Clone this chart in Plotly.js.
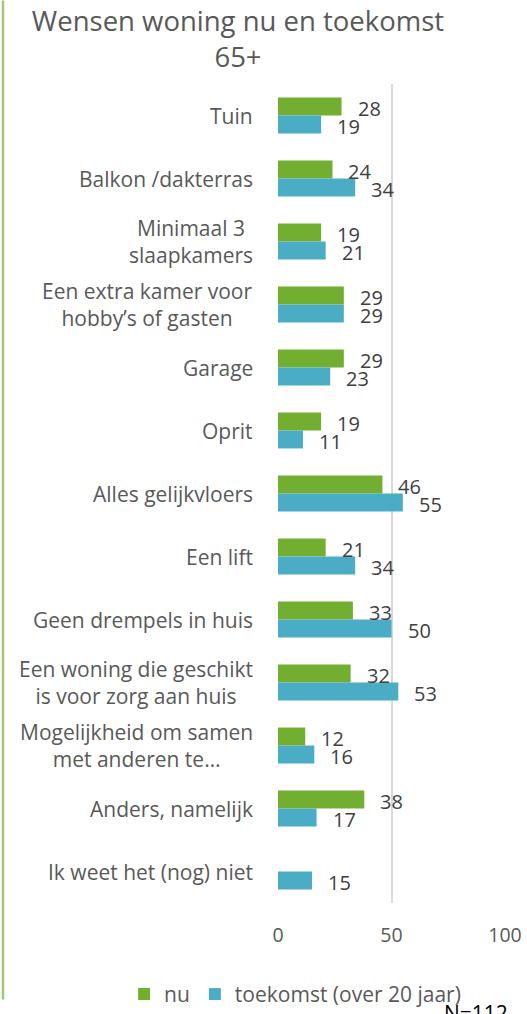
<!DOCTYPE html>
<html>
<head>
<meta charset="utf-8">
<script src="https://cdn.plot.ly/plotly-3.0.1.min.js"></script>
<style>html,body{margin:0;padding:0;background:#fff;}#chart{width:527px;height:1014px;}</style>
</head>
<body>
<div id="chart"></div>
<script>
var categories = [
  "Tuin",
  "Balkon /dakterras",
  "Minimaal 3<br>slaapkamers",
  "Een extra kamer voor<br>hobby’s of gasten",
  "Garage",
  "Oprit",
  "Alles gelijkvloers",
  "Een lift",
  "Geen drempels in huis",
  "Een woning die geschikt<br>is voor zorg aan huis",
  "Mogelijkheid om samen<br>met anderen te…",
  "Anders, namelijk",
  "Ik weet het (nog) niet"
];
var nu = [28, 24, 19, 29, 29, 19, 46, 21, 33, 32, 12, 38, null];
var toekomst = [19, 34, 21, 29, 23, 11, 55, 34, 50, 53, 16, 17, 15];
var xTicks = [0, 50, 100];
var seriesNames = ["nu", "toekomst (over 20 jaar)"];

var FONT = "'Open Sans', Lato, sans-serif";
var GRAY = "#595959";
var GREEN = "#72AE2F";
var TEAL = "#4BACC6";

var traces = [
  {type: "bar", orientation: "h", name: seriesNames[0], y: categories, x: nu,
   marker: {color: GREEN}, hoverinfo: "none"},
  {type: "bar", orientation: "h", name: seriesNames[1], y: categories, x: toekomst,
   marker: {color: TEAL}, hoverinfo: "none"}
];

var annotations = [];
categories.forEach(function (c, i) {
  annotations.push({xref: "paper", yref: "y", x: 0, y: c, xanchor: "right", yanchor: "middle",
    xshift: -23, align: "center", text: c, showarrow: false,
    font: {family: FONT, size: 21, color: GRAY}});
  if (nu[i] !== null) {
    annotations.push({xref: "x", yref: "y", x: nu[i], y: c, xanchor: "left", yanchor: "middle",
      xshift: 14, yshift: 7, text: String(nu[i]), showarrow: false,
      font: {family: FONT, size: 20, color: "#404040"}});
  }
  if (toekomst[i] !== null) {
    annotations.push({xref: "x", yref: "y", x: toekomst[i], y: c, xanchor: "left", yanchor: "middle",
      xshift: 14, yshift: -11, text: String(toekomst[i]), showarrow: false,
      font: {family: FONT, size: 20, color: "#404040"}});
  }
});
annotations.push({xref: "paper", yref: "paper", x: 0.723, y: -0.1345, xanchor: "left", yanchor: "middle",
  text: "N=112", showarrow: false, font: {family: FONT, size: 21, color: "#000"}});

var layout = {
  width: 527, height: 1014,
  margin: {l: 278, r: 22, t: 83.5, b: 110.5, autoexpand: false},
  paper_bgcolor: "#fff", plot_bgcolor: "#fff",
  title: {text: "Wensen woning nu en toekomst<br>65+", x: 0.4516, xanchor: "center",
    y: 0.969, yanchor: "top", yref: "container",
    font: {family: FONT, size: 27.5, color: GRAY}},
  barmode: "group", bargap: 0.43, bargroupgap: 0,
  xaxis: {range: [0, 100], tickvals: xTicks, ticktext: xTicks.map(String), showgrid: true,
    gridcolor: "#d9d9d9", gridwidth: 2, zeroline: false, showline: false, ticks: "",
    tickfont: {family: FONT, size: 19.5, color: GRAY}, ticklabelstandoff: 18, fixedrange: true},
  yaxis: {autorange: "reversed", showticklabels: false, showgrid: false, zeroline: false,
    showline: false, ticks: "", fixedrange: true},
  showlegend: true,
  legend: {orientation: "h", x: -0.678, xanchor: "left",
    y: -0.1116, yanchor: "middle",
    font: {family: FONT, size: 21, color: GRAY}, itemwidth: 30, traceorder: "normal"},
  annotations: annotations,
  shapes: [{type: "line", xref: "paper", yref: "paper", x0: -1.2115, x1: -1.2115,
    y0: -0.1177, y1: 1.102, line: {color: "#9DC977", width: 2.5}}]
};

Plotly.newPlot("chart", traces, layout, {displayModeBar: false, staticPlot: true});
</script>
</body>
</html>
